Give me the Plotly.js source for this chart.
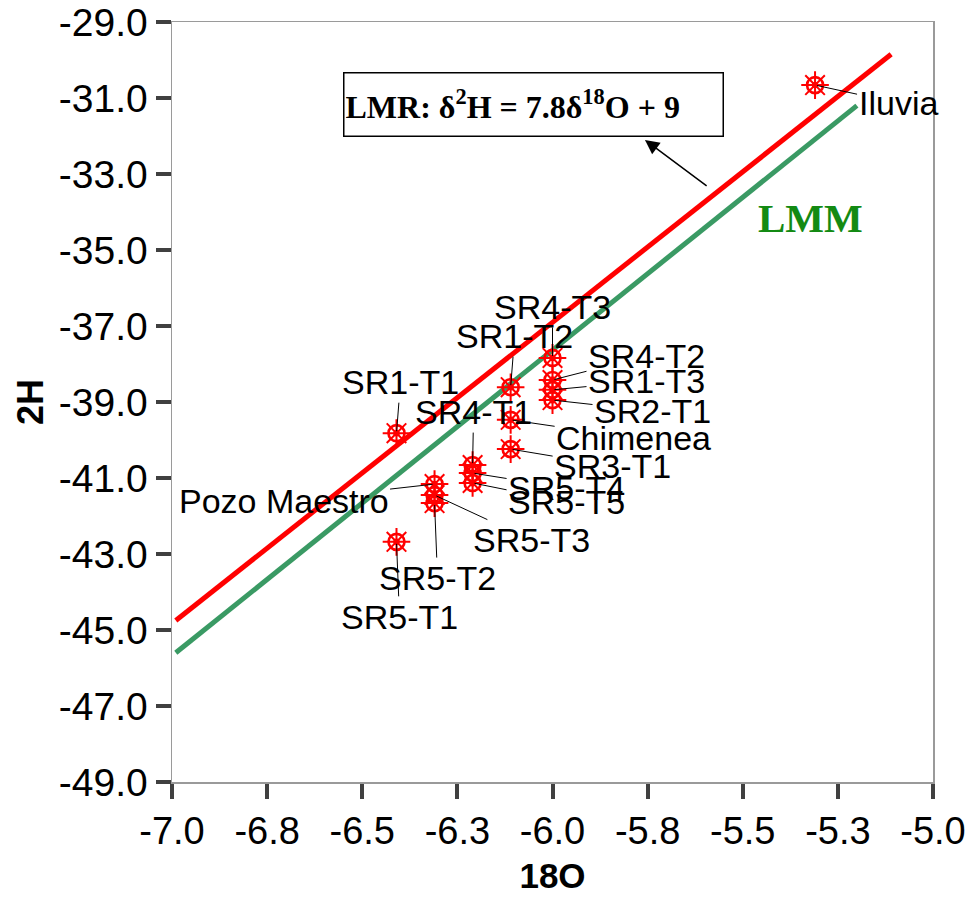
<!DOCTYPE html>
<html>
<head>
<meta charset="utf-8">
<script src="https://cdn.plot.ly/plotly-3.0.1.min.js"></script>
<style>html,body{margin:0;padding:0;background:#fff;}#chart{width:969px;height:899px;}</style>
</head>
<body>
<div id="chart"></div>
<script>
// ---- data ----
const sampleNames = ["Iluvia","SR4-T3","SR1-T2","SR4-T2","SR1-T3","SR2-T1","SR1-T1","SR4-T1","Chimenea","SR3-T1","SR5-T4","SR5-T5","Pozo Maestro","SR5-T3","SR5-T2","SR5-T1"];
const o18 = [-5.31,-6.00,-6.11,-6.00,-6.00,-6.00,-6.41,-6.21,-6.11,-6.11,-6.21,-6.21,-6.31,-6.31,-6.31,-6.41];
const h2  = [-30.66,-37.84,-38.61,-38.42,-38.68,-38.95,-39.82,-40.66,-39.47,-40.24,-40.87,-41.13,-41.16,-41.45,-41.66,-42.68];

const lmrX = [-6.99,-5.11];
const lmrY = [-44.75,-29.85];
const lmmX = [-6.99,-5.20];
const lmmY = [-45.60,-31.20];

const xTickVals = [-7.0,-6.75,-6.5,-6.25,-6.0,-5.75,-5.5,-5.25,-5.0];
const xTickText = ["-7.0","-6.8","-6.5","-6.3","-6.0","-5.8","-5.5","-5.3","-5.0"];
const yTickVals = [-49,-47,-45,-43,-41,-39,-37,-35,-33,-31,-29];
const yTickText = ["-49.0","-47.0","-45.0","-43.0","-41.0","-39.0","-37.0","-35.0","-33.0","-31.0","-29.0"];

// ---- label placement (pixel offsets of label from point) ----
const labelOffsets = {
  "Iluvia":[83,18],"SR4-T3":[0,-51],"SR1-T2":[4,-51],"SR4-T2":[94,-24],"SR1-T3":[94,-9],
  "SR2-T1":[100,11],"SR1-T1":[4,-51],"SR4-T1":[1,-53],"Chimenea":[123,18],"SR3-T1":[102,17],
  "SR5-T4":[94,15],"SR5-T5":[94,19],"Pozo Maestro":[-151,17],"SR5-T3":[97,45],"SR5-T2":[3,75],"SR5-T1":[3,75]
};

const red = "#ff0000";
const traces = [
  {x: lmrX, y: lmrY, mode:"lines", line:{color:red, width:5}, hoverinfo:"skip"},
  {x: lmmX, y: lmmY, mode:"lines", line:{color:"#3a9a64", width:5}, hoverinfo:"skip"},
  {x: o18, y: h2, mode:"markers", marker:{symbol:"circle-open", size:16, color:red, line:{width:2.6, color:red}}, hoverinfo:"skip"},
  {x: o18, y: h2, mode:"markers", marker:{symbol:"asterisk-open", size:23, color:red, line:{width:2, color:red}}, hoverinfo:"skip"},
  {x: o18, y: h2, mode:"markers", marker:{symbol:"circle-open", size:5, color:red, line:{width:1.5, color:red}}, hoverinfo:"skip"}
];

const annotations = sampleNames.map((n,i)=>({
  x:o18[i], y:h2[i], xref:"x", yref:"y", text:n,
  showarrow:true, arrowhead:0, arrowwidth:1, arrowcolor:"#000",
  ax:labelOffsets[n][0], ay:labelOffsets[n][1], standoff:2,
  font:{family:"Liberation Sans, Arial, sans-serif", size:34, color:"#000"}
}));

annotations.push({
  x:-6.049, y:-31.18, xref:"x", yref:"y", showarrow:false,
  text:"<b>LMR: δ<sup>2</sup>H = 7.8δ<sup>18</sup>O + 9</b>",
  font:{family:"Liberation Serif, Times New Roman, serif", size:32, color:"#000"},
  bgcolor:"#fff", bordercolor:"#000", borderwidth:1.5, width:376, height:60, align:"left", valign:"middle"
});
annotations.push({
  x:-5.757, y:-32.105, xref:"x", yref:"y", text:"", showarrow:true,
  axref:"x", ayref:"y", ax:-5.591, ay:-33.34, arrowhead:2, arrowsize:1.9, arrowwidth:1.5, arrowcolor:"#000"
});
annotations.push({
  x:-5.323, y:-34.16, xref:"x", yref:"y", showarrow:false,
  text:"<b>LMM</b>",
  font:{family:"Liberation Serif, Times New Roman, serif", size:41, color:"#138a13"}
});

const layout = {
  width:969, height:899,
  margin:{l:172, r:36, t:22, b:117},
  paper_bgcolor:"#fff", plot_bgcolor:"#fff",
  showlegend:false,
  xaxis:{
    range:[-7,-5], tickvals:xTickVals, ticktext:xTickText,
    showgrid:false, zeroline:false,
    showline:true, linecolor:"#9a9a9a", linewidth:1.5, mirror:true,
    ticks:"outside", ticklen:15, tickwidth:4, tickcolor:"#404040",
    tickfont:{family:"Liberation Sans, Arial, sans-serif", size:38, color:"#000"},
    title:{text:"<b>18O</b>", font:{family:"Liberation Sans, Arial, sans-serif", size:35, color:"#000"}, standoff:12}
  },
  yaxis:{
    range:[-49,-29], tickvals:yTickVals, ticktext:yTickText,
    showgrid:false, zeroline:false,
    showline:true, linecolor:"#9a9a9a", linewidth:1.5, mirror:true,
    ticks:"outside", ticklen:15, tickwidth:4, tickcolor:"#404040",
    tickfont:{family:"Liberation Sans, Arial, sans-serif", size:39, color:"#000"},
    title:{text:"<b>2H</b>", font:{family:"Liberation Sans, Arial, sans-serif", size:36, color:"#000"}, standoff:4}
  },
  annotations: annotations
};

Plotly.newPlot("chart", traces, layout, {displayModeBar:false, staticPlot:true});
</script>
</body>
</html>
